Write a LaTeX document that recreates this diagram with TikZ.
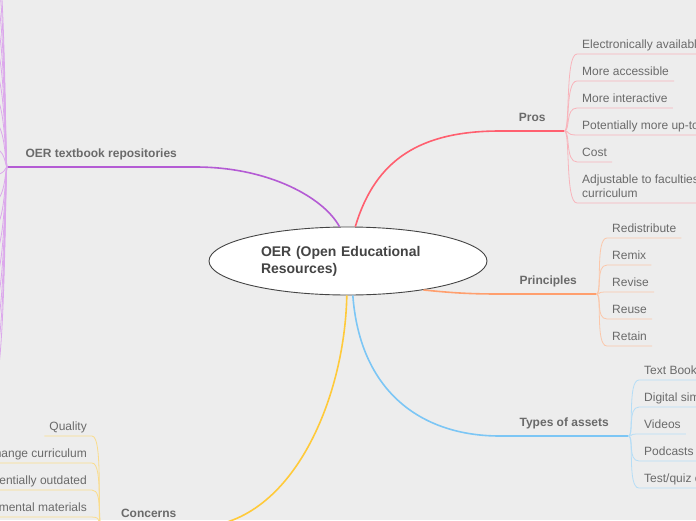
\documentclass[tikz,border=0pt]{standalone}
\usepackage{fontspec}
\setmainfont{Liberation Sans}
\usetikzlibrary{shapes.geometric}
\definecolor{OerBg}{HTML}{EDEDED}
\definecolor{OerText}{HTML}{6A6A6A}
\definecolor{OerDark}{HTML}{444444}
\definecolor{OerRed}{HTML}{FF5F6F}
\definecolor{OerRedLt}{HTML}{F8B4BB}
\definecolor{OerOrange}{HTML}{FF9F6E}
\definecolor{OerOrangeLt}{HTML}{FBC7AA}
\definecolor{OerBlue}{HTML}{7CC6F5}
\definecolor{OerBlueLt}{HTML}{B5DDF6}
\definecolor{OerYellow}{HTML}{FFCA3A}
\definecolor{OerYellowLt}{HTML}{FADC8C}
\definecolor{OerPurple}{HTML}{B45BD4}
\definecolor{OerPurpleLt}{HTML}{DCA8EC}
\begin{document}
\begin{tikzpicture}[x=1pt,y=-1pt,
    limb/.style={line width=1.6pt,draw=#1},
    twig/.style={line width=0.8pt,draw=#1},
    topic/.style={font=\bfseries\fontsize{12}{14}\selectfont,text=OerText,inner xsep=0pt,inner ysep=6.3pt,text height=8.6pt,text depth=2.7pt,anchor=south west},
    kid/.style={font=\fontsize{12}{14}\selectfont,text=OerText,inner xsep=5pt,inner ysep=2.8pt,text height=8.6pt,text depth=2.7pt}
  ]
    \useasboundingbox (0,0) rectangle (696,520);
    \fill[OerBg] (0,0) rectangle (696,520);
    \clip (0,0) rectangle (696,520);

    \node[ellipse,draw=OerDark,fill=white,line width=0.9pt,minimum width=278pt,minimum height=68pt,inner sep=0pt,text width=174pt,align=left,font=\bfseries\fontsize{14}{17}\selectfont,text=OerDark] (oer) at (348,261) {OER (Open Educational\\Resources)};

    \node[topic,minimum width=64pt] (pros) at (500,131) {Pros};
    \node[topic,minimum width=96pt] (princ) at (500,294) {Principles};
    \node[topic,minimum width=128pt] (types) at (500,436) {Types of assets};
    \node[topic,minimum width=93pt] (concerns) at (102,527) {Concerns};
    \node[topic,minimum width=188pt] (repo) at (7,167) {OER textbook repositories};

    \draw[limb=OerRed] (oer.78) .. controls +(20,-67) and +(-80,0) .. (pros.south west) -- (pros.south east);
    \draw[limb=OerOrange] (oer.-21) .. controls +(30,3) and +(-30,0) .. (princ.south west) -- (princ.south east);
    \draw[limb=OerBlue] (oer.-82) .. controls +(7,95) and +(-80,0) .. (types.south west) -- (types.south east);
    \draw[limb=OerYellow] (oer.-92) .. controls +(-2,105) and +(95,0) .. (concerns.south east) -- (concerns.south west);
    \draw[limb=OerPurple] (oer.104) .. controls +(-15,-28) and +(75,0) .. (repo.south east) -- (repo.south west);

    \foreach \uy/\tx [count=\i] in {54/Electronically availabl,81/More accessible,108/More interactive,135/Potentially more up-to,162/Cost}
      {\node[kid,anchor=south west] (pros\i) at (577,\uy) {\tx};
       \draw[twig=OerRedLt] (pros.south east) .. controls +(6,0) and +(-12,0) .. (pros\i.south west) -- (pros\i.south east);}
    \node[kid,anchor=south west,align=left,text height=,text depth=] (pros6) at (577,203) {Adjustable to faculties\\curriculum\rule[-2.7pt]{0pt}{2.7pt}};
    \draw[twig=OerRedLt] (pros.south east) .. controls +(6,0) and +(-12,0) .. (pros6.south west) -- (pros6.south east);

    \foreach \uy/\tx [count=\i] in {238/Redistribute,265/Remix,292/Revise,319/Reuse,346/Retain}
      {\node[kid,anchor=south west] (princ\i) at (607,\uy) {\tx};
       \draw[twig=OerOrangeLt] (princ.south east) .. controls +(6,0) and +(-12,0) .. (princ\i.south west) -- (princ\i.south east);}

    \foreach \uy/\tx [count=\i] in {380/Text Book,407/Digital sim,434/Videos,461/Podcasts,488/{Test/quiz c}}
      {\node[kid,anchor=south west] (types\i) at (639,\uy) {\tx};
       \draw[twig=OerBlueLt] (types.south east) .. controls +(6,0) and +(-12,0) .. (types\i.south west) -- (types\i.south east);}

    \foreach \uy/\tx [count=\i] in {436/Quality,463/hange curriculum,490/entially outdated,517/mental materials}
      {\node[kid,anchor=south east] (con\i) at (92,\uy) {\tx};
       \draw[twig=OerYellowLt] (concerns.south west) .. controls +(-6,0) and +(12,0) .. (con\i.south east) -- (con\i.south west);}

    \foreach \uy [count=\i] in {-68,-41,-14,13,40,67,94,121,148,175,202,229,256,283,310,337,364,391}
      {\coordinate (rep\i) at (-8,\uy);
       \draw[twig=OerPurpleLt] (repo.south west) .. controls +(-2,0) and +(14,0) .. (rep\i);}
  \end{tikzpicture}
\end{document}
